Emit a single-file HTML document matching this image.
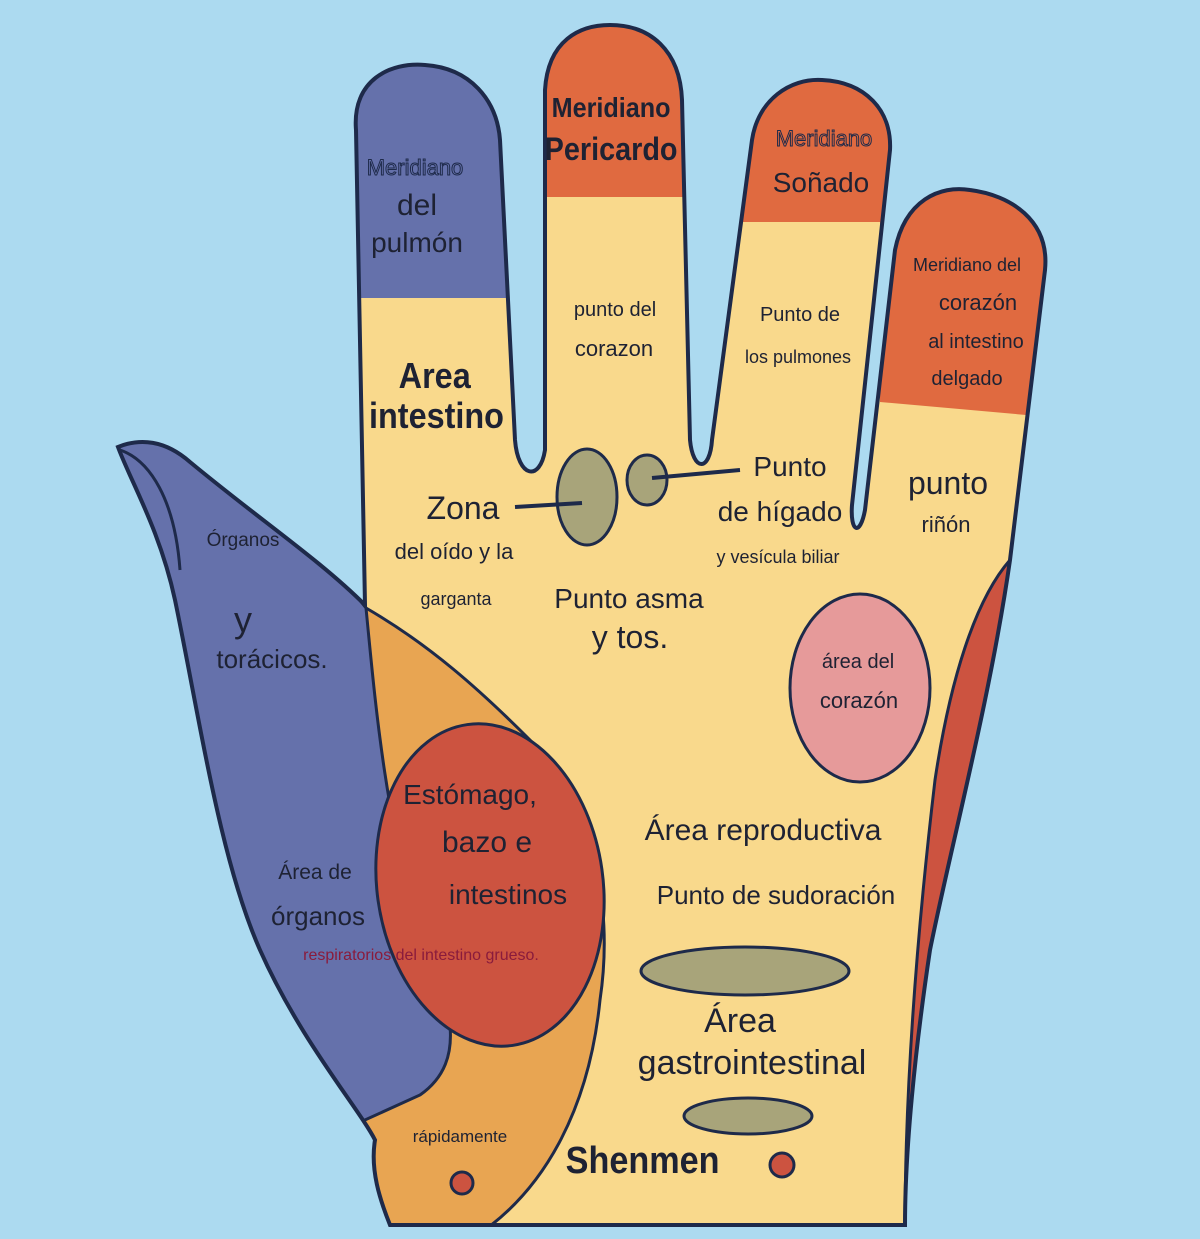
<!DOCTYPE html>
<html><head><meta charset="utf-8"><style>
html,body{margin:0;padding:0;background:#acdaf0;}
svg{display:block}
text{font-family:"Liberation Sans",sans-serif;fill:#1e2233;text-anchor:middle}
</style></head><body>
<svg width="1200" height="1239" viewBox="0 0 1200 1239" xmlns="http://www.w3.org/2000/svg">
<rect width="1200" height="1239" fill="#acdaf0"/>
<defs>
<clipPath id="h"><path id="hp" d="M118,447 C140,438 165,440 190,462 C260,520 320,560 365,605 L356,130 C352,80 390,62 425,65 C470,68 497,100 500,140 L515,440 C518,478 540,482 545,450 L545,90 C548,40 580,25 610,25 C650,25 680,50 682,100 L690,440 C693,472 710,472 712,440 L752,140 C758,100 790,78 822,80 C865,82 892,110 890,150 L852,505 C850,532 860,537 865,510 L895,250 C905,200 940,185 970,190 C1010,195 1050,220 1045,270 L1010,560 C990,700 950,850 930,950 C915,1050 905,1150 905,1225 L390,1225 C380,1200 370,1170 375,1140 C360,1110 300,1040 260,950 C220,860 200,720 175,600 C160,530 130,480 118,447 Z"/></clipPath>
</defs>
<g clip-path="url(#h)">
<rect width="1200" height="1239" fill="#f9d98c"/>
<rect x="340" y="40" width="180" height="258" fill="#6571ab"/>
<rect x="530" y="0" width="170" height="197" fill="#e06a40"/>
<rect x="740" y="50" width="170" height="172" fill="#e06a40"/>
<path d="M880,150 L1060,150 L1060,418 L880,402 Z" fill="#e06a40"/>
<path d="M1010,560 L1060,560 L1000,1230 L905,1230 C905,1100 915,950 935,780 C950,680 975,600 1010,560Z" fill="#cc5340" stroke="#1e2a4a" stroke-width="3"/>
<path d="M100,400 L200,400 L366,608 C430,645 480,690 530,740 C590,800 615,900 600,1000 C590,1100 550,1190 470,1240 L360,1240 L100,1240Z" fill="#e8a552" stroke="#1e2a4a" stroke-width="3"/>
<path d="M100,400 L200,400 L366,608 C375,700 385,820 420,930 C450,1000 470,1060 420,1095 L100,1240Z" fill="#6571ab" stroke="#1e2a4a" stroke-width="3"/>
<ellipse cx="490" cy="885" rx="113" ry="162" transform="rotate(-8 490 885)" fill="#cc5340" stroke="#1e2a4a" stroke-width="3"/>
</g>
<use href="#hp" fill="none" stroke="#1e2a4a" stroke-width="4"/>
<path d="M120,450 C150,460 175,500 180,570" fill="none" stroke="#1e2a4a" stroke-width="3"/>
<ellipse cx="587" cy="497" rx="30" ry="48" fill="#a8a47a" stroke="#1e2a4a" stroke-width="3"/>
<ellipse cx="647" cy="480" rx="20" ry="25" fill="#a8a47a" stroke="#1e2a4a" stroke-width="3"/>
<line x1="515" y1="507" x2="582" y2="503" stroke="#1e2a4a" stroke-width="4"/>
<line x1="652" y1="478" x2="740" y2="470" stroke="#1e2a4a" stroke-width="4"/>
<ellipse cx="860" cy="688" rx="70" ry="94" fill="#e69a9a" stroke="#1e2a4a" stroke-width="3"/>
<ellipse cx="745" cy="971" rx="104" ry="24" fill="#a8a47a" stroke="#1e2a4a" stroke-width="3"/>
<ellipse cx="748" cy="1116" rx="64" ry="18" fill="#a8a47a" stroke="#1e2a4a" stroke-width="3"/>
<circle cx="462" cy="1183" r="11" fill="#cc5340" stroke="#1e2a4a" stroke-width="3"/>
<circle cx="782" cy="1165" r="12" fill="#cc5340" stroke="#1e2a4a" stroke-width="3"/>

<text x="415" y="175" font-size="22" style="fill:#6571ab;stroke:#1e2a4a;stroke-width:1">Meridiano</text>
<text x="417" y="215" font-size="30">del</text>
<text x="417" y="252" font-size="28">pulmón</text>
<text x="611" y="117" font-size="28" font-weight="bold" transform="scale(0.9 1) translate(68 0)">Meridiano</text>
<text x="611" y="160" font-size="32" font-weight="bold" transform="scale(0.9 1) translate(68 0)">Pericardo</text>
<text x="824" y="146" font-size="22" style="fill:#e06a40;stroke:#1e2a4a;stroke-width:1">Meridiano</text>
<text x="821" y="192" font-size="28">Soñado</text>
<text x="967" y="271" font-size="18">Meridiano del</text>
<text x="978" y="310" font-size="22">corazón</text>
<text x="976" y="348" font-size="20">al intestino</text>
<text x="967" y="385" font-size="20">delgado</text>
<text x="615" y="316" font-size="20">punto del</text>
<text x="614" y="356" font-size="22">corazon</text>
<text x="800" y="321" font-size="20">Punto de</text>
<text x="798" y="363" font-size="18">los pulmones</text>
<text x="435" y="388" font-size="36" font-weight="bold" transform="scale(0.9 1) translate(48 0)">Area</text>
<text x="437" y="428" font-size="36" font-weight="bold" transform="scale(0.9 1) translate(48 0)">intestino</text>
<text x="948" y="494" font-size="32">punto</text>
<text x="946" y="532" font-size="22">riñón</text>
<text x="790" y="476" font-size="28">Punto</text>
<text x="780" y="521" font-size="28">de hígado</text>
<text x="778" y="563" font-size="18">y vesícula biliar</text>
<text x="463" y="519" font-size="32">Zona</text>
<text x="454" y="559" font-size="22">del oído y la</text>
<text x="456" y="605" font-size="18">garganta</text>
<text x="629" y="608" font-size="28">Punto asma</text>
<text x="630" y="648" font-size="32">y tos.</text>
<text x="243" y="546" font-size="19">Órganos</text>
<text x="243" y="632" font-size="36">y</text>
<text x="272" y="668" font-size="26">torácicos.</text>
<text x="858" y="668" font-size="20">área del</text>
<text x="859" y="708" font-size="22">corazón</text>
<text x="470" y="804" font-size="28">Estómago,</text>
<text x="487" y="852" font-size="30">bazo e</text>
<text x="508" y="904" font-size="28">intestinos</text>
<text x="763" y="840" font-size="30">Área reproductiva</text>
<text x="776" y="904" font-size="26">Punto de sudoración</text>
<text x="315" y="879" font-size="21">Área de</text>
<text x="318" y="925" font-size="26">órganos</text>
<text x="421" y="960" font-size="16" style="fill:#8a1b3c">respiratorios del intestino grueso.</text>
<text x="740" y="1032" font-size="34">Área</text>
<text x="752" y="1074" font-size="34">gastrointestinal</text>
<text x="460" y="1142" font-size="17">rápidamente</text>
<text x="643" y="1173" font-size="38" font-weight="bold" transform="scale(0.9 1) translate(71 0)">Shenmen</text>
</svg>
</body></html>
